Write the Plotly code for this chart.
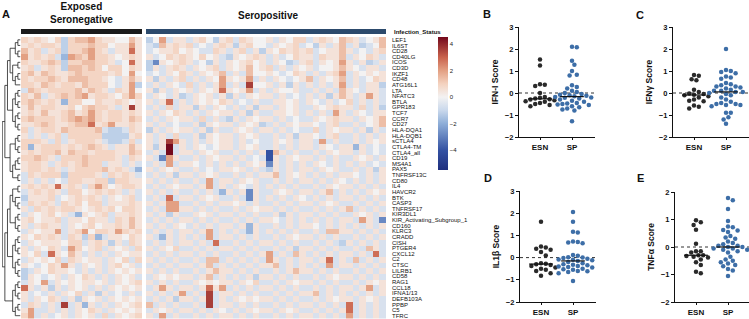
import numpy as np
import plotly.graph_objects as go

# ---------------- data ----------------
genes = ["LEF1", "IL6ST", "CD28", "CD40LG", "ICOS", "CD3D", "IKZF1", "CD48", "ATG16L1", "LTA",
         "NFATC3", "BTLA", "GPR183", "TCF7", "CCR7", "CD27", "HLA-DQA1", "HLA-DQB1", "sCTLA4",
         "CTLA4-TM", "CTLA4_all", "CD19", "MS4A1", "PAX5", "TNFRSF13C", "CD80", "IL4", "HAVCR2",
         "BTK", "CASP3", "TNFRSF17", "KIR3DL1", "KIR_Activating_Subgroup_1", "CD160", "KLRC3",
         "CRADD", "CISH", "PTGER4", "CXCL12", "C2", "CTSC", "LILRB1", "CD58", "RAG1", "CCL18",
         "IFNA1/13", "DEFB103A", "PPBP", "C5", "TFRC"]

# estimated z-score levels (one character per cell)
LEVELS = {"A": -4.0, "B": -2.8, "C": -1.8, "D": -1.2, "E": -0.65, "0": 0.0, "1": 0.5,
          "2": 0.9, "3": 1.4, "4": 2.0, "5": 2.8, "6": 3.6, "7": 4.5}

esn_rows = [
    "212102 D23342 110031", "121221 D22232 201141", "312E12 D22342 1E1151", "41212E C43242 210121",
    "211232 D22332 21E051", "12E121 D33232 022021", "231321 123222 212040", "212232 133322 10E131",
    "221321 221322 20E14D", "E32122 223132 1E2140", "213E12 323412 210242", "232121 C22002 112101",
    "131221 120232 21E161", "121311 231242 122121", "232221 234342 122132", "112321 123351 241121",
    "2E1221 322223 EDDE21", "1E1E12 E22222 DDDD12", "2221E2 E12221 EDDE2E", "2C1222 121232 1E1131",
    "121223 132212 221132", "22321E 222322 221E21", "1221E1 212322 E11E1E", "122121 E12222 3121EC",
    "E21222 D22221 E2121E", "E1E1E0 E22112 2D2211", "121215 121E24 201221", "E12121 E22012 121E1E",
    "D1112E 012121 E1012E", "E2121E 212022 E11121", "1E2121 221012 120221", "E10120 1EC101 2E1121",
    "120112 E11021 1E2131", "1E1211 E10120 112131", "E10114 E12402 214212", "102121 E21D2C E11021",
    "E10111 022E12 1D1E21", "1E1021 E42012 E101E2", "102E51 031E1E 1E1011", "E10102 E21011 E102E2",
    "10E021 41E101 E1201E", "DE1021 10E1E1 E10101", "D10E01 E1021E 1E101E", "E104E1 010110 1E1012",
    "51E1D1 E101E1 E10101", "1E0E1E 102E1D 1E0E1E", "1E1021 E1D101 E10101", "E21E1E 6E1C1E 1E1012",
    "14EE1E 1E1021 E10101", "24E1E0 1E101E 2E1012",
]

sp_rows = [
    "D04E11 E120D1 2E2100 1E1022 E12103 21E013", "ED3121 2E0E12 1D1200 E1012E 0D1E13 E1DE03",
    "E01120 10EE21 E12E1D 102121 2E0113 1E0E12", "1E0212 10201E D10121 E1E021 1E2113 E1021E",
    "DB1012 1E0D1E 101201 E10DE1 2E1014 1E1DE1", "D1E121 E1012E 101301 2E1E10 1E0013 10E11E",
    "E0E102 1E1013 E1E300 10E021 E1E124 E10101", "1D1E12 E1E104 1014E1 E10E01 3E1013 E1E021",
    "E1E10E 2E1E14 E1E600 1E1D1E 1E1E14 E1E11D", "1D1E10 1E1015 1014E1 E1001E E1E1E3 10E11E",
    "E10E1D E101E1 D1E101 1E1E0E 1E1D13 1E141E", "1E15E1 E10102 1E0E1E E1101E 10E1E0 2E1E1E",
    "E1E2E1 1D1E10 E1E1D1 1E101E E10121 1E2E1D", "1E1021 E1E101 1E1D1E E1101E 1E1E41 E10E11",
    "E1E101 1E2E1E D1E101 1E1E0E E10121 1E1013", "1E1E0E E1D101 1E101D E1E101 10E12E E1E013",
    "D1E101 1E1D1E E101E1 1E1E0E E2E101 1E1D1E", "1E1E2E E1D101 1E101E E1E1D1 10E12E E1E1E1",
    "1E1641 E1E101 1E1E0E E101E1 1E4E1E E1E101", "1D17E1 E10E01 1E101E E1E1E1 1E10E1 1C1E0E",
    "E1E7E1 1E101E E1E1E1 A31E1E E1E101 1E1E0E", "1EB41E E1E101 1E1E0E A1E101 1E1E1E E101E1",
    "E1E4E1 10E1E1 E1E101 B1E1E1 E10E1E 1E1E0E", "1E101E E1E0E1 101E1E D1E1E1 1E101E E1E1D1",
    "E1E1D1 1E101E E1E1E1 13E101 E1E1E1 10E1E1", "1E1E1E E1E4E1 1E101E E1E1E1 1E1E10 E1E1E1",
    "E1E101 1E14E1 E10E1E 1E1E1E E1E101 1E1E1E", "1E1E1E E1E1EC 1E1B1E E101E1 1E13E1 E1E101",
    "E1E5E1 1E101E E1EB1E 1E1E10 E1E1E1 1E1E1E", "1E144E E1E1E1 101E1E E1E1E1 1E101E E1E1E1",
    "E1E441 1E1E1E E1E101 1E1E1E E1E1E1 3E1E1E", "1E1D1E E101E1 1E1E1E E1D1E1 1E1E1E E101E1",
    "E1E1E1 1E1E1E E1E1E1 10E1E1 E1E1E1 1E41EB", "1E1E10 E1E1E1 1E1C1E E1E1E1 10E1E1 E1E1E1",
    "E1E1E1 1E14E1 E1EC1E 1E1E1E E1E331 1E1E1E", "1EC1E1 E1E4E1 1E1E1E E1E101 1E1E1E E1E1E1",
    "E1E1E1 1E1E5E E1E1E1 1E1E1E E1E1ED 1E1E1E", "1E102E E1E1E1 1E1E1E E1E1D1 1E1E1E E1E31E",
    "E1E1E1 1E1E1E E1E1E1 4E1E31 E1E1E1 1E1E5E", "1E1E1E E1E33E 1E1E1E 41E1E1 1E15E1 E3E1E1",
    "E1E1E1 1E13E1 E1E1E1 13E1E1 E1E4E1 1E1E1E", "1E1E1E E1E131 1E1E1E E1E131 1E1E1E E1E1E1",
    "E10101 1E13E1 E1E1D1 1E1E1E E1E101 1E1E1E", "1E1E1E E10101 1E102E E1E101 1E1E1E E1E101",
    "E141E1 1E1514 E1E1E1 1E1E1E E1E1E1 1E14E1", "1E1E14 E1E6E1 1E1E1E E1E1E1 13E1E1 E1E1E1",
    "E1E1D1 1E16E1 E10101 1E1E1E E1E101 1E101E", "3E1E1E E1E6E1 1E1E1E E1E1E1 1E1E1E 5E1E1E",
    "E101E1 1E1E10 E1E101 1E101E E1E1E1 5E1E1E", "1E4E1E E1E1E1 1E1E1E E1E1E1 1E1E1E 4E1E1E",
]

# row dendrogram (leaf = row index)
top = [[[[0, 1], [2, 3]], [[4, 5], [[6, 7], 8]]], [[[9, 10], [11, 12]], [[13, 14], [15, 16]]]]
mid1 = [[[17, 18], [19, 20]], [[[21, 22], 23], [24, 25]]]
mid2 = [[[26, 27], [28, [29, 30]]], [[31, 32], [33, 34]]]
bot1 = [[[35, 36], [37, 38]], [[39, 40], [41, 42]]]
bot2 = [[[43, 44], [45, 46]], [[47, 48], 49]]
TREE = [[top, mid1], [[mid2, bot1], bot2]]

groups = ["ESN", "SP"]
ifn1_esn = [1.52, 1.25, 0.4, 0.37, 0.32, 0.0, -0.18, -0.22, -0.25, -0.28, -0.3, -0.33, -0.38, -0.4, -0.45, -0.5, -0.55, -0.6]
ifn1_sp = [2.1, 2.08, 1.47, 1.28, 1.0, 0.83, 0.8, 0.35, 0.27, 0.2, 0.1, 0.05, 0.0, -0.05, -0.08, -0.1, -0.12, -0.15,
           -0.18, -0.2, -0.22, -0.25, -0.3, -0.35, -0.4, -0.45, -0.48, -0.5, -0.52, -0.55, -0.6, -0.65, -0.7, -0.75, -0.8, -1.28]
ifng_esn = [0.82, 0.78, 0.62, 0.58, 0.15, 0.05, -0.02, -0.05, -0.08, -0.1, -0.15, -0.2, -0.3, -0.35, -0.38, -0.57, -0.62, -0.7]
ifng_sp = [2.0, 1.05, 1.0, 0.95, 0.9, 0.75, 0.7, 0.65, 0.45, 0.4, 0.35, 0.3, 0.3, 0.25, 0.2, 0.15, 0.1, 0.1, 0.05,
           0.05, 0.0, -0.05, -0.1, -0.2, -0.3, -0.4, -0.45, -0.5, -0.5, -0.55, -0.55, -0.6, -0.9, -0.9, -1.1, -1.2, -1.4]
il1b_esn = [1.62, 0.5, 0.45, 0.4, 0.35, 0.25, 0.1, -0.25, -0.28, -0.3, -0.33, -0.38, -0.45, -0.5, -0.55, -0.6, -0.7, -0.82]
il1b_sp = [2.05, 1.62, 1.17, 1.13, 0.72, 0.7, 0.68, 0.65, 0.12, 0.08, 0.02, 0.0, -0.02, -0.05, -0.08, -0.1, -0.12, -0.15,
           -0.2, -0.25, -0.3, -0.32, -0.35, -0.38, -0.4, -0.42, -0.45, -0.5, -0.52, -0.55, -0.6, -0.62, -0.65, -0.7, -1.05]
tnfa_esn = [0.97, 0.9, 0.8, 0.63, 0.12, -0.15, -0.15, -0.2, -0.3, -0.3, -0.33, -0.35, -0.38, -0.45, -0.55, -0.65, -0.9, -0.95]
tnfa_sp = [1.78, 1.7, 1.38, 0.95, 0.75, 0.72, 0.62, 0.6, 0.55, 0.4, 0.35, 0.3, 0.2, 0.15, 0.1, 0.05, 0.05, 0.0, 0.0,
           -0.05, -0.05, -0.1, -0.1, -0.15, -0.2, -0.35, -0.45, -0.5, -0.55, -0.6, -0.65, -0.7, -0.8, -0.85, -1.05]

# ---------------- helpers ----------------
W, H = 749, 319
def px(x): return x / W
def py(y): return 1 - y / H

def decode(rows, ncol):
    out, bad = [], []
    for i, r in enumerate(rows):
        s = r.replace(" ", "")
        if len(s) != ncol:
            bad.append((i, len(s)))
        out.append([LEVELS[c] for c in s[:ncol]] + [0.0] * max(0, ncol - len(s)))
    if bad:
        raise ValueError(f"bad rows {bad}")
    return np.array(out)

Z_esn = decode(esn_rows, 18)
Z_sp = decode(sp_rows, 36)

ZMIN, ZMAX = -5.5, 4.53
stops = [(-5.5, "#1f2f7e"), (-4.0, "#3452a3"), (-2.0, "#8eaed8"), (-1.0, "#c9d8ec"),
         (0.0, "#f3f2f2"), (1.0, "#f4d2bf"), (2.0, "#e3a083"), (3.0, "#c9624c"), (4.53, "#72081c")]
cscale = [[(v - ZMIN) / (ZMAX - ZMIN), c] for v, c in stops]

fig = go.Figure()

fig.add_trace(go.Heatmap(z=Z_esn, x=list(range(18)), y=list(range(50)), xaxis="x", yaxis="y",
                         colorscale=cscale, zmin=ZMIN, zmax=ZMAX, showscale=False, hoverinfo="skip"))
fig.add_trace(go.Heatmap(z=Z_sp, x=list(range(36)), y=list(range(50)), xaxis="x2", yaxis="y",
                         colorscale=cscale, zmin=ZMIN, zmax=ZMAX, hoverinfo="skip",
                         colorbar=dict(x=px(438), xanchor="left", xref="paper", y=py(37), yanchor="top",
                                       len=133 / H, lenmode="fraction", thickness=10, thicknessmode="pixels",
                                       outlinewidth=0, tickvals=[-4, -2, 0, 2, 4], ticks="",
                                       tickfont=dict(size=6, color="#222"), xpad=0, ypad=0)))

# infection status bars
stat_scale = [[0, "#1b1b1b"], [1, "#2c4a6c"]]
fig.add_trace(go.Heatmap(z=[[0] * 18], x=list(range(18)), xaxis="x", yaxis="y3", colorscale=stat_scale,
                         zmin=0, zmax=1, showscale=False, hoverinfo="skip"))
fig.add_trace(go.Heatmap(z=[[1] * 36], x=list(range(36)), xaxis="x2", yaxis="y3", colorscale=stat_scale,
                         zmin=0, zmax=1, showscale=False, hoverinfo="skip"))

# dendrogram
dx, dy = [], []
def walk(node):
    if isinstance(node, int):
        return float(node), 0
    y1, h1 = walk(node[0])
    y2, h2 = walk(node[1])
    h = max(h1, h2) + 1
    dx.extend([h1, h, h, h2, None])
    dy.extend([y1, y1, y2, y2, None])
    return (y1 + y2) / 2, h
_, HMAX = walk(TREE)
fig.add_trace(go.Scatter(x=dx, y=dy, xaxis="x3", yaxis="y", mode="lines",
                         line=dict(color="#222", width=0.8), hoverinfo="skip"))

# strip plots
def swarm(vals, ppu_y, ppu_x, d=4.8):
    vals = np.asarray(vals, float)
    order = np.argsort(-vals)
    placed = []
    offs = np.zeros(len(vals))
    cands = [0.0]
    for k in range(1, 12):
        cands += [k * d / 2, -k * d / 2]
    for i in order:
        yp = vals[i] * ppu_y
        for c in cands:
            if all((c - a) ** 2 + (yp - b) ** 2 >= (d * 0.98) ** 2 for a, b in placed):
                placed.append((c, yp))
                offs[i] = c / ppu_x
                break
    return offs

panels = [
    ("B", ifn1_esn, ifn1_sp, "IFN-I Score", 4, 519, 595, 27, 137, (-2, 3)),
    ("C", ifng_esn, ifng_sp, "IFNγ Score", 5, 673, 749, 27, 137, (-2, 3)),
    ("D", il1b_esn, il1b_sp, "IL1β Score", 6, 520, 596, 191, 302, (-2, 3)),
    ("E", tnfa_esn, tnfa_sp, "TNFα Score", 7, 675, 749, 192, 302, (-2, 2)),
]
colors = ["#2a2a2a", "#3d6ea7"]
PPX = 32.0
for letter, e_vals, s_vals, title, k, x0, x1, y0, y1, yr in panels:
    ppu_y = (y1 - y0) / (yr[1] - yr[0])
    xa, ya = f"x{k}", f"y{k}"
    for g, vals in enumerate([e_vals, s_vals]):
        offs = swarm(vals, ppu_y, PPX)
        fig.add_trace(go.Scatter(x=g + offs, y=vals, xaxis=xa, yaxis=ya, mode="markers",
                                 marker=dict(size=4.5, color=colors[g], line=dict(width=0)),
                                 hoverinfo="skip"))
        med = float(np.median(vals))
        fig.add_trace(go.Scatter(x=[g - 0.37, g + 0.37], y=[med, med], xaxis=xa, yaxis=ya, mode="lines",
                                 line=dict(color="#111", width=1.2), hoverinfo="skip"))
    fig.add_shape(type="line", xref=f"{xa} domain", yref=ya, x0=0, x1=1, y0=0, y1=0,
                  line=dict(color="#333", width=1, dash="dot"), layer="below")
    axfont = dict(family="Liberation Sans", size=7.5, color="#111", weight="bold")
    fig.update_layout(**{
        f"xaxis{k}": dict(domain=[px(x0), min(1, px(x1))], range=[-21 / PPX, (x1 - x0 - 21) / PPX],
                          anchor=ya, tickvals=[0, 1], ticktext=groups, showline=True, linecolor="#111",
                          linewidth=1.3, ticks="outside", ticklen=2, tickwidth=1.2, tickcolor="#111",
                          tickfont=dict(family="Liberation Sans", size=8, color="#111", weight="bold"),
                          showgrid=False, zeroline=False, fixedrange=True),
        f"yaxis{k}": dict(domain=[py(y1), py(y0)], range=list(yr), anchor=xa, dtick=1,
                          showline=True, linecolor="#111", linewidth=1.3, ticks="outside", ticklen=3,
                          tickwidth=1.2, tickcolor="#111", tickfont=axfont, showgrid=False, zeroline=False,
                          title=dict(text=title, standoff=4,
                                     font=dict(family="Liberation Sans", size=8.5, color="#111", weight="bold"))),
    })

layout = dict(
    width=W, height=H, margin=dict(l=0, r=0, t=0, b=0, autoexpand=False), paper_bgcolor="white",
    plot_bgcolor="rgba(0,0,0,0)",
    showlegend=False, font=dict(family="Liberation Sans", color="#111"),
    xaxis=dict(domain=[px(21), px(142)], range=[-0.5, 17.5], visible=False),
    xaxis2=dict(domain=[px(146), px(386)], range=[-0.5, 35.5], visible=False),
    xaxis3=dict(domain=[px(2), px(20.5)], range=[HMAX + 0.1, 0], visible=False),
    yaxis=dict(domain=[py(318.5), py(37)], range=[49.5, -0.5], anchor="x2", side="right",
               tickvals=list(range(50)), ticktext=genes, ticks="", showgrid=False, zeroline=False,
               showline=False, ticklabelstandoff=5,
               tickfont=dict(family="Liberation Sans", size=6, color="#111")),
    yaxis3=dict(domain=[py(34), py(29)], range=[-0.5, 0.5], visible=False, anchor="x"),
)
fig.update_layout(**layout)

ann = [
    dict(text="A", x=px(5.5), y=py(13.5), size=11),
    dict(text="Exposed<br>Seronegative", x=px(81), y=py(12.5), size=10),
    dict(text="Seropositive", x=px(268), y=py(15), size=10),
    dict(text="B", x=px(487), y=py(14.5), size=11),
    dict(text="C", x=px(640), y=py(15.5), size=11),
    dict(text="D", x=px(488), y=py(178), size=11),
    dict(text="E", x=px(640), y=py(177.5), size=11),
]
for a in ann:
    fig.add_annotation(text=a["text"], x=a["x"], y=a["y"], xref="paper", yref="paper", showarrow=False,
                       xanchor="center", yanchor="middle",
                       font=dict(family="Liberation Sans", size=a["size"], color="#111", weight="bold"))
fig.add_annotation(text="Infection_Status", x=px(392), y=py(31.5), xref="paper", yref="paper",
                   showarrow=False, xanchor="left", yanchor="middle",
                   font=dict(family="Liberation Sans", size=6, color="#111", weight="bold"))

fig.write_html("out.html", config={"displayModeBar": False})

# remove the browser's default page margin so the figure sits at the window's top-left corner
with open("out.html", "r", encoding="utf-8") as f:
    html = f.read()
html = html.replace("<head>", "<head><style>html,body{margin:0;padding:0;overflow:hidden;}</style>", 1)
with open("out.html", "w", encoding="utf-8") as f:
    f.write(html)
